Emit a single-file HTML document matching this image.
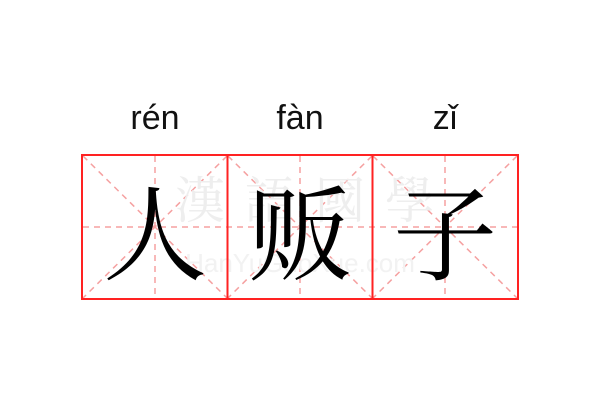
<!DOCTYPE html>
<html><head><meta charset="utf-8"><style>
body{margin:0;width:600px;height:400px;background:#fff;overflow:hidden}
</style></head><body>
<svg width="600" height="400" xmlns="http://www.w3.org/2000/svg">
<g font-family="Liberation Sans, DejaVu Sans, sans-serif" font-size="34" fill="#111" text-anchor="middle">
<text x="155" y="129">rén</text>
<text x="300" y="129">fàn</text>
<text x="445" y="129">zǐ</text>
</g>
<g stroke="#f5a0a0" stroke-width="1.5" stroke-dasharray="6,5" fill="none">
<line x1="83" y1="227" x2="517" y2="227"/>
<line x1="155" y1="156" x2="155" y2="298"/>
<line x1="300" y1="156" x2="300" y2="298"/>
<line x1="445" y1="156" x2="445" y2="298"/>
<line x1="83" y1="156" x2="227" y2="298"/><line x1="227" y1="156" x2="83" y2="298"/>
<line x1="228" y1="156" x2="372" y2="298"/><line x1="372" y1="156" x2="228" y2="298"/>
<line x1="373" y1="156" x2="517" y2="298"/><line x1="517" y1="156" x2="373" y2="298"/>
</g>
<g font-family="Liberation Serif, Noto Serif CJK SC, serif" font-size="50" fill="#eeeeee" text-anchor="middle">
<text x="200" y="218">漢</text><text x="270" y="218">語</text><text x="340" y="218">國</text><text x="410" y="218">學</text>
</g>
<text x="300" y="272" font-family="Liberation Sans, sans-serif" font-size="26" fill="#f2f2f2" text-anchor="middle">HanYuGuoXue.com</text>
<g font-family="Noto Serif CJK SC, serif" font-size="104" fill="#000" text-anchor="middle">
<text x="155" y="272">人</text>
<text x="300" y="272">贩</text>
<text x="445" y="272">子</text>
</g>
<g stroke="#f22" stroke-width="2" fill="none">
<rect x="82" y="155" width="436" height="144"/>
<line x1="227.5" y1="155" x2="227.5" y2="299"/>
<line x1="372.5" y1="155" x2="372.5" y2="299"/>
</g>
</svg>
</body></html>
